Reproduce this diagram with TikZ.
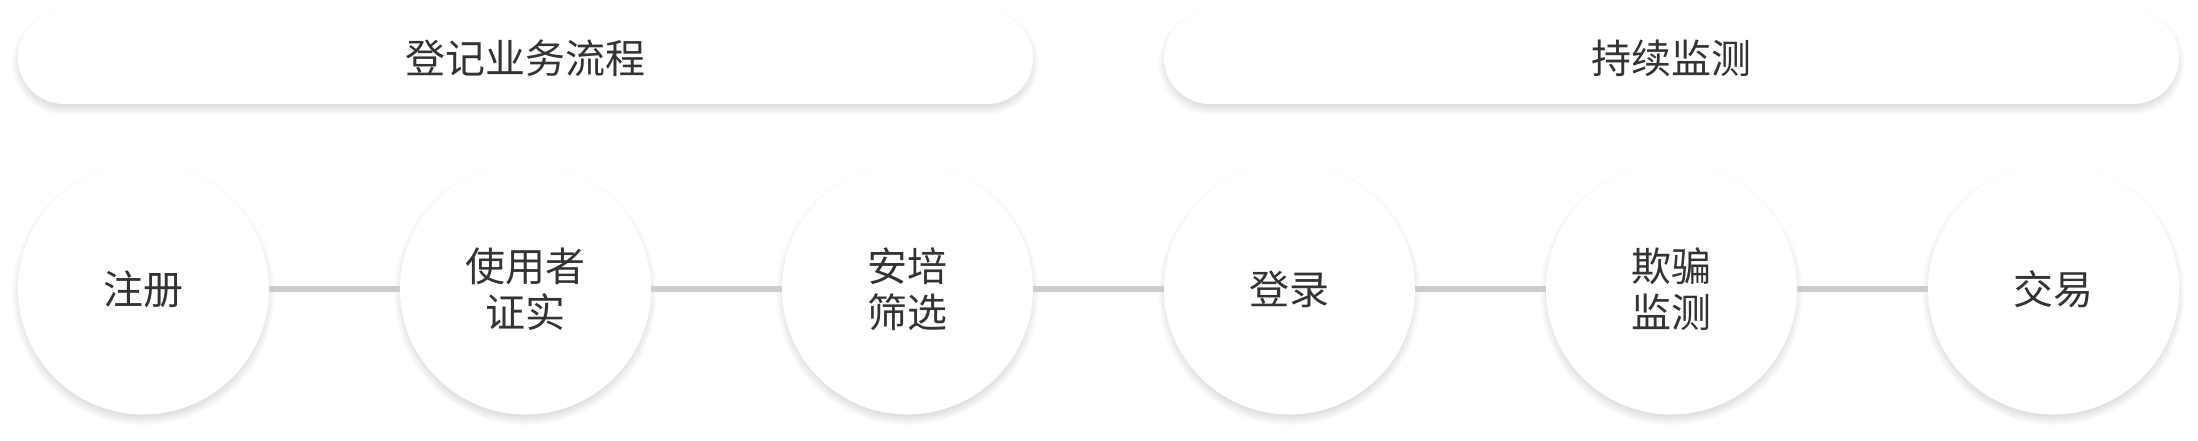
\documentclass[tikz,border=0pt]{standalone}
\usepackage{fontspec}
\setmainfont{Noto Sans CJK SC}
\usepackage{xcolor}
\usetikzlibrary{shapes,backgrounds}
\definecolor{txtgray}{RGB}{51,51,51}
\definecolor{linegray}{RGB}{204,204,204}
\tikzset{
  stagecircle/.style={circle,fill=white,minimum size=251pt,inner sep=0pt,align=center,
    text=txtgray,font=\fontsize{40}{46}\selectfont},
  phasepill/.style={rounded rectangle,fill=white,minimum height=92pt,minimum width=1015pt,inner sep=0pt,
    text=txtgray,font=\fontsize{40}{46}\selectfont},
  shadelayer/.style={fill=black,fill opacity=0.011,draw=none,inner sep=0pt},
  linkline/.style={draw=linegray,line width=6pt}
}
\begin{document}
\begin{tikzpicture}[x=1pt,y=-1pt]
%set diagram to the size of the reference
\useasboundingbox (0,0) rectangle (2198,440);

%Shape: Pill [id:phase1]
\node [phasepill] (regflow) at (525.5,58) {登记业务流程};
%Shape: Pill [id:phase2]
\node [phasepill] (monitor) at (1671.5,58) {持续监测};

%Shape: Circle [id:step1..step6]
\node [stagecircle] (signup) at (143.5,289) {注册};
\node [stagecircle] (verify) at (525.5,289) {使用者\\证实};
\node [stagecircle] (screen) at (907.5,289) {安培\\筛选};
\node [stagecircle] (login) at (1289.5,289) {登录};
\node [stagecircle] (fraud) at (1671.5,289) {欺骗\\监测};
\node [stagecircle] (trade) at (2053.5,289) {交易};

%Soft shadows
\begin{scope}[on background layer]
\fill [white] (0,0) rectangle (2198,440);
\foreach \k in {0,...,10}{
  \foreach \n in {signup,verify,screen,login,fraud,trade}
    \node [shadelayer,circle,minimum size=243pt+2*\k pt] at ([yshift=-5pt]\n.center) {};
  \foreach \n in {regflow,monitor}
    \node [shadelayer,rounded rectangle,minimum height=84pt+2*\k pt,minimum width=1007pt+2*\k pt] at ([yshift=-5pt]\n.center) {};
}
\end{scope}

%Straight Lines
\draw [linkline] (signup.east) -- (verify.west);
\draw [linkline] (verify.east) -- (screen.west);
\draw [linkline] (screen.east) -- (login.west);
\draw [linkline] (login.east) -- (fraud.west);
\draw [linkline] (fraud.east) -- (trade.west);

\end{tikzpicture}
\end{document}
